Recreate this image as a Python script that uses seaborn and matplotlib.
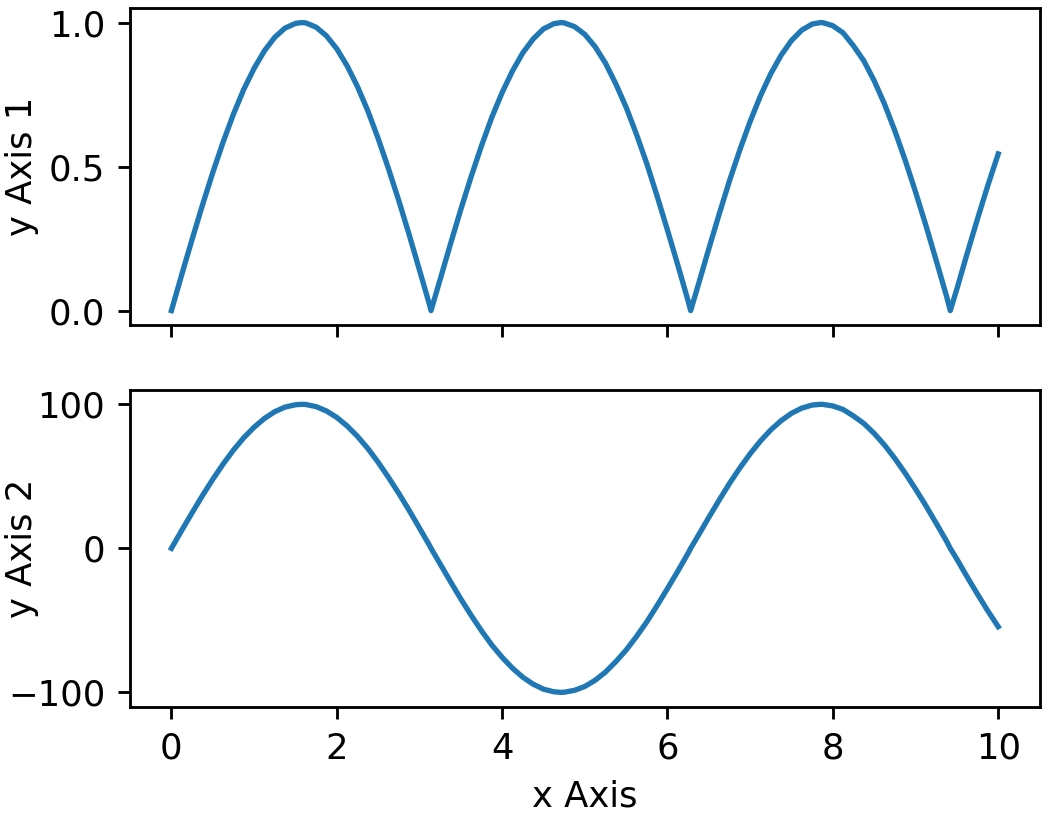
import pandas as pd
import matplotlib
matplotlib.use("Agg")
import matplotlib.pyplot as plt
import seaborn as sns

# values (shared x positions)
x_vals = [0, 0.125, 0.25, 0.375, 0.5, 0.625, 0.75, 0.875,
          1, 1.125, 1.25, 1.375, 1.5, 1.57, 1.625, 1.75, 1.875,
          2, 2.125, 2.25, 2.375, 2.5, 2.625, 2.75, 2.875,
          3, 3.125, 3.14, 3.25, 3.375, 3.5, 3.625, 3.75, 3.875,
          4, 4.125, 4.25, 4.375, 4.5, 4.625, 4.71, 4.75, 4.875,
          5, 5.125, 5.25, 5.375, 5.5, 5.625, 5.75, 5.875,
          6, 6.125, 6.25, 6.28, 6.375, 6.5, 6.625, 6.75, 6.875,
          7, 7.125, 7.25, 7.375, 7.5, 7.625, 7.75, 7.85, 7.875,
          8, 8.125, 8.25, 8.375, 8.5, 8.625, 8.75, 8.875,
          9, 9.125, 9.25, 9.375, 9.42, 9.5, 9.625, 9.75, 9.875, 10]

# top panel (y Axis 1)
y_axis1 = [0.0, 0.125, 0.247, 0.366, 0.479, 0.585, 0.682, 0.768,
           0.841, 0.902, 0.949, 0.981, 0.997, 1.0, 0.999, 0.984, 0.954,
           0.909, 0.850, 0.778, 0.694, 0.598, 0.493, 0.382, 0.264,
           0.141, 0.017, 0.0, 0.108, 0.231, 0.351, 0.465, 0.572, 0.671,
           0.757, 0.832, 0.895, 0.943, 0.978, 0.996, 1.0, 0.999, 0.986,
           0.959, 0.916, 0.859, 0.787, 0.706, 0.612, 0.510, 0.397,
           0.279, 0.158, 0.033, 0.0, 0.092, 0.215, 0.335, 0.451, 0.558,
           0.657, 0.746, 0.823, 0.887, 0.938, 0.974, 0.995, 1.0, 1.0,
           0.989, 0.964, 0.919, 0.867, 0.798, 0.717, 0.624, 0.522,
           0.412, 0.296, 0.174, 0.050, 0.0, 0.075, 0.199, 0.319, 0.435, 0.544]

# bottom panel (y Axis 2)
y_axis2 = [0, 12.5, 24.7, 36.6, 47.9, 58.5, 68.2, 76.8,
           84.1, 90.2, 94.9, 98.1, 99.7, 100, 99.9, 98.4, 95.4,
           90.9, 85.0, 77.8, 69.4, 59.8, 49.3, 38.2, 26.4,
           14.1, 1.7, 0, -10.8, -23.1, -35.1, -46.5, -57.2, -67.1,
           -75.7, -83.2, -89.5, -94.3, -97.8, -99.6, -100, -99.9, -98.6,
           -95.9, -91.6, -85.9, -78.7, -70.6, -61.2, -51.0, -39.7,
           -27.9, -15.8, -3.3, 0, 9.2, 21.5, 33.5, 45.1, 55.8,
           65.7, 74.6, 82.3, 88.7, 93.8, 97.4, 99.5, 100, 100,
           98.9, 96.4, 91.9, 86.7, 79.8, 71.7, 62.4, 52.2,
           41.2, 29.6, 17.4, 5.0, 0, -7.5, -19.9, -31.9, -43.5, -54.4]

y_ticks1 = [0.0, 0.5, 1.0]
y_ticks2 = [-100, 0, 100]
x_ticks = [0, 2, 4, 6, 8, 10]

# plain matplotlib look (black spines and text), seaborn for drawing
plt.style.use("default")
plt.rcParams["font.family"] = ["DejaVu Sans"]

DPI = 255
fig, axes = plt.subplots(2, 1, sharex=True, figsize=(1049 / DPI, 818 / DPI), dpi=DPI)
fig.subplots_adjust(left=0.124, right=0.991, top=0.990, bottom=0.136, hspace=0.205)

df = pd.DataFrame({"x": x_vals, "y1": y_axis1, "y2": y_axis2})

sns.lineplot(data=df, x="x", y="y1", ax=axes[0], color="#1f77b4", linewidth=1.5)
sns.lineplot(data=df, x="x", y="y2", ax=axes[1], color="#1f77b4", linewidth=1.5)

axes[0].set_ylabel("y Axis 1")
axes[0].set_xlabel("")
axes[1].set_ylabel("y Axis 2")
axes[1].set_xlabel("x Axis")
axes[0].set_yticks(y_ticks1)
axes[1].set_yticks(y_ticks2)
axes[1].set_xticks(x_ticks)

# both y labels sit in the same column, as in the reference
for ax in axes:
    ax.yaxis.set_label_coords(-0.1, 0.5)

fig.savefig("out.png", dpi=DPI)
